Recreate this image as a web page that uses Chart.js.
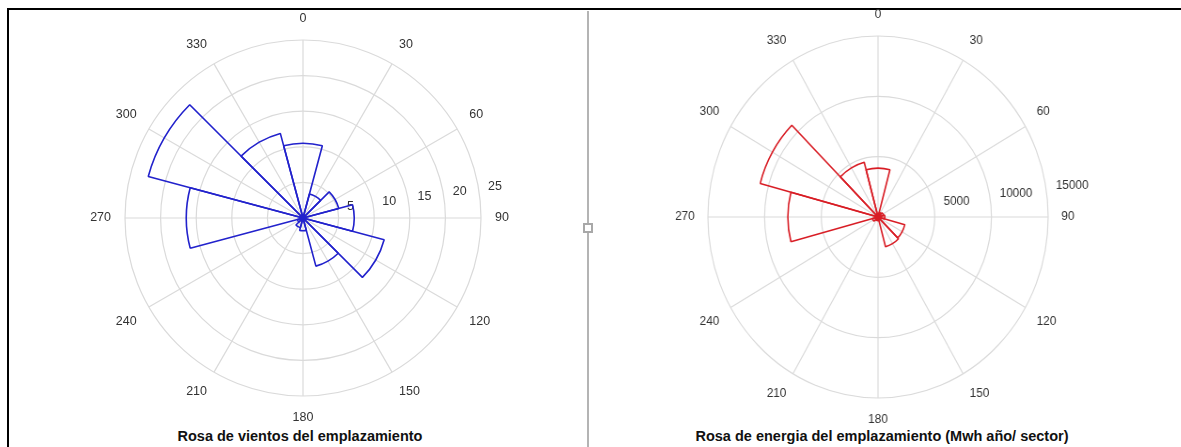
<!DOCTYPE html>
<html>
<head>
<meta charset="utf-8">
<script src="https://cdn.jsdelivr.net/npm/chart.js@4.4.1/dist/chart.umd.min.js"></script>
<style>
  html, body { margin: 0; padding: 0; background: #fff; }
  body { width: 1181px; height: 447px; position: relative; overflow: hidden; }
  .marco { position: absolute; left: 7px; top: 8px; width: 1174px; height: 439px; border-top: 2px solid #000; border-left: 2px solid #000; }
  .divisor { position: absolute; left: 587px; top: 11px; width: 2px; height: 436px; background: #b4b4b4; }
  .asa { position: absolute; left: 583px; top: 223px; width: 6px; height: 6px; border: 2px solid #a8a8a8; background: #fff; }
  canvas { position: absolute; }
  .titulo { position: absolute; top: 428px; font: bold 14.5px "Liberation Sans", Arial, sans-serif; color: #111; white-space: nowrap; transform: translateX(-50%); }
</style>
</head>
<body>
<div class="marco"></div>
<div class="divisor"></div>
<div class="asa"></div>
<canvas id="rosaVientos" width="500" height="414" style="left:53px; top:11px;"></canvas>
<canvas id="rosaEnergia" width="500" height="420" style="left:628px; top:7px; transform: scaleX(0.94);"></canvas>
<div class="titulo" style="left:300px;">Rosa de vientos del emplazamiento</div>
<div class="titulo" style="left:882px;">Rosa de energia del emplazamiento (Mwh año/ sector)</div>
<script>
// --- DATOS ---
const angulos = ['0', '30', '60', '90', '120', '150', '180', '210', '240', '270', '300', '330'];

// rosa de vientos (% del tiempo por sector)
const vientos = [10.5, 3.5, 5.2, 7.2, 11.8, 7.0, 1.8, 1.4, 0.8, 16.4, 22.5, 12.3];
const anillosVientos = [5, 10, 15, 20, 25];

// rosa de energia (MWh año / sector)
const energia = [4050, 400, 500, 600, 2450, 2550, 300, 300, 500, 7950, 10750, 4700];
const anillosEnergia = [5000, 10000, 15000];

// --- REJILLA TIPO MATLAB (radios y etiquetas a 82 grados) ---
const rejillaRosa = {
    id: 'rejillaRosa',
    beforeDatasetsDraw(chart) {
        const s = chart.scales.r;
        const ctx = chart.ctx;
        const n = chart.data.labels.length;
        ctx.save();
        ctx.strokeStyle = '#dadada';
        ctx.lineWidth = 1.2;
        for (let i = 0; i < n; i++) {
            const p = s.getPointPosition(i, s.drawingArea, Math.PI / n);
            ctx.beginPath();
            ctx.moveTo(s.xCenter, s.yCenter);
            ctx.lineTo(p.x, p.y);
            ctx.stroke();
        }
        const paso = s.ticks[1].value - s.ticks[0].value;
        const ang = (82 - 90) * Math.PI / 180;
        ctx.fillStyle = '#333';
        ctx.font = '12.5px "Liberation Sans"';
        ctx.textAlign = 'left';
        ctx.textBaseline = 'bottom';
        s.ticks.forEach(t => {
            if (t.value === 0) return;
            const d = s.getDistanceFromCenterForValue(t.value + paso / 20);
            ctx.fillText('  ' + t.value, s.xCenter + d * Math.cos(ang), s.yCenter + d * Math.sin(ang));
        });
        ctx.restore();
    },
    afterDatasetsDraw(chart) {
        const s = chart.scales.r;
        const ctx = chart.ctx;
        ctx.save();
        ctx.fillStyle = chart.data.datasets[0].borderColor;
        ctx.beginPath();
        ctx.arc(s.xCenter, s.yCenter, 3.5, 0, Math.PI * 2);
        ctx.fill();
        ctx.restore();
    }
};

function rosa(id, valores, anillos, color) {
    return new Chart(document.getElementById(id), {
        type: 'polarArea',
        data: {
            labels: angulos,
            datasets: [{ data: valores, backgroundColor: 'rgba(0,0,0,0)', borderColor: color, borderWidth: 1.6 }]
        },
        options: {
            responsive: false,
            animation: false,
            layout: { padding: 0 },
            plugins: { legend: { display: false }, tooltip: { enabled: false } },
            scales: {
                r: {
                    startAngle: -15,
                    min: 0,
                    max: anillos[anillos.length - 1],
                    ticks: { display: false, stepSize: anillos[0] },
                    grid: { circular: true, color: '#dadada', lineWidth: 1.2 },
                    angleLines: { display: false },
                    pointLabels: {
                        display: true,
                        centerPointLabels: true,
                        padding: 14,
                        color: '#333',
                        font: { family: 'Liberation Sans', size: 12.5 }
                    }
                }
            }
        },
        plugins: [rejillaRosa]
    });
}

rosa('rosaVientos', vientos, anillosVientos, '#2222cc');
rosa('rosaEnergia', energia, anillosEnergia, '#d81c24');
</script>
</body>
</html>
